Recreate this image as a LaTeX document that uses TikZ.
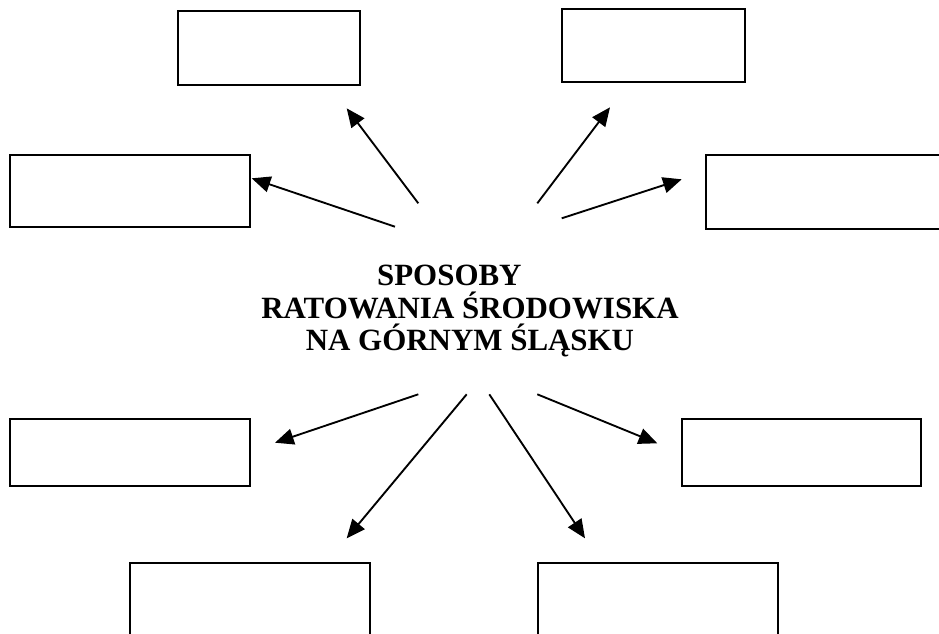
\documentclass[tikz,border=0pt]{standalone}
\usepackage{fontspec}
\setmainfont{Liberation Serif}
\usetikzlibrary{arrows.meta}
\begin{document}
\begin{tikzpicture}[x=0.75pt,y=-0.75pt,
  box/.style={draw=black, line width=1.8pt, rectangle, inner sep=0pt},
  arr/.style={draw=black, line width=1.4pt, -{Triangle[length=14pt,width=12pt]}}]
\useasboundingbox (0,0) rectangle (939,633);
\clip (0,0) rectangle (939,633);
\fill[white] (0,0) rectangle (939,633);
% boxes
\node[box, minimum width=136.5pt, minimum height=55.5pt] (b1) at (269,48) {};
\node[box, minimum width=137.25pt, minimum height=54.75pt] (b2) at (653.5,45.5) {};
\node[box, minimum width=180pt, minimum height=54pt] (b3) at (130,191) {};
\node[box, minimum width=180pt, minimum height=55.5pt] (b4) at (826,192) {};
\node[box, minimum width=180pt, minimum height=50.25pt] (b5) at (130,452.5) {};
\node[box, minimum width=179.25pt, minimum height=50.25pt] (b6) at (801.5,452.5) {};
\node[box, minimum width=180pt, minimum height=54pt] (b7) at (250,599) {};
\node[box, minimum width=180pt, minimum height=54pt] (b8) at (658,599) {};
% title
\node[font=\fontsize{23.2}{24.6}\selectfont\bfseries, align=center] (title) at (470,311)
  {SPOSOBY\hspace*{31pt}\\RATOWANIA ŚRODOWISKA\\NA GÓRNYM ŚLĄSKU};
% arrow ends
\coordinate (s1) at (418.3,203.3); \coordinate (t1) at (346.7,108.3);
\coordinate (s3) at (395,226.7);   \coordinate (t3) at (251.7,178.3);
\coordinate (s2) at (537.3,203.3); \coordinate (t2) at (610,107.3);
\coordinate (s4) at (561.7,218.3); \coordinate (t4) at (681.7,179.3);
\coordinate (s5) at (418.3,394.3); \coordinate (t5) at (275,442.7);
\coordinate (s7) at (466.7,394.3); \coordinate (t7) at (346.7,538.3);
\coordinate (s8) at (489.3,394.3); \coordinate (t8) at (585,538.3);
\coordinate (s6) at (537.3,394.3); \coordinate (t6) at (657.3,443.3);
\foreach \i in {1,...,8} { \draw[arr] (s\i) -- (t\i); }
\end{tikzpicture}
\end{document}
